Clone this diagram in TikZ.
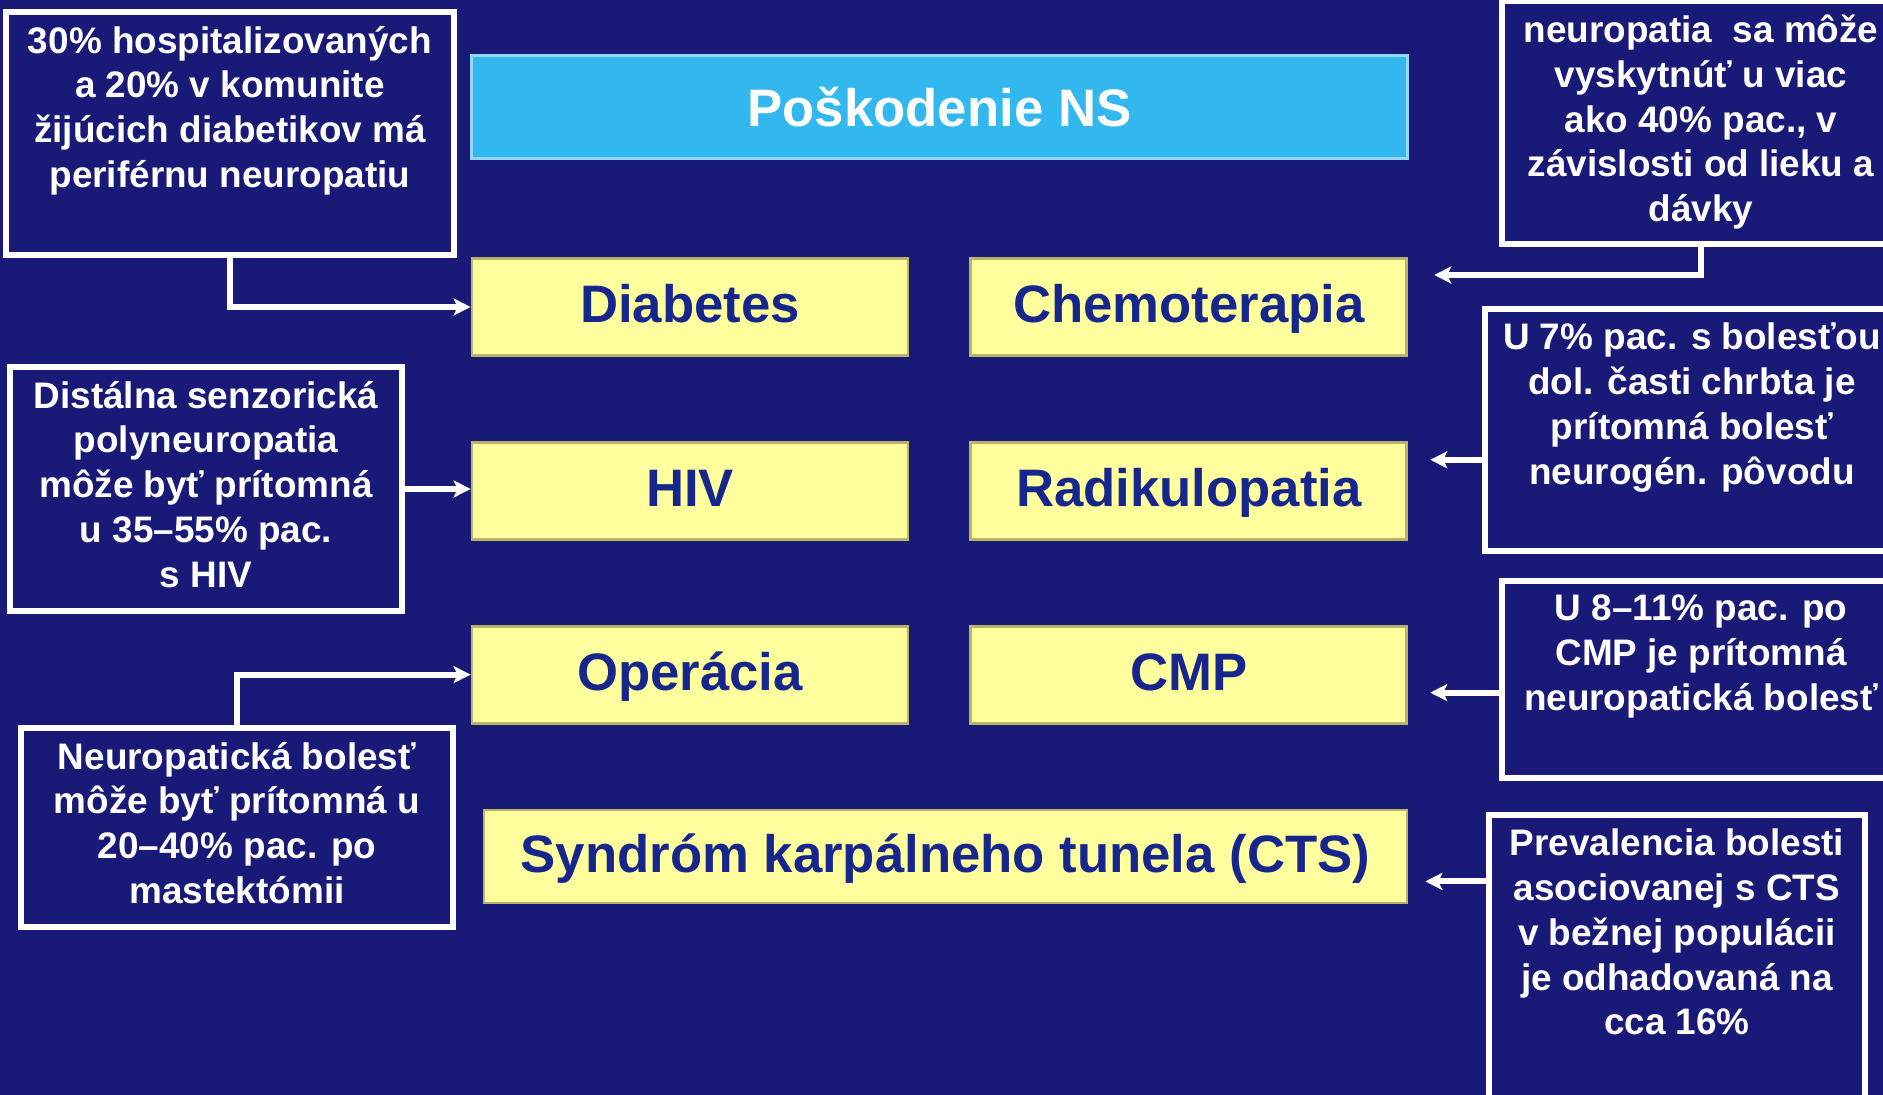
\documentclass[tikz,border=0pt]{standalone}
\usepackage{fontspec}
\setmainfont{Liberation Sans}
\usepackage{tikz}
\usetikzlibrary{positioning,arrows.meta,calc}
\definecolor{NavyBg}{RGB}{25,25,120}
\definecolor{CauseYellow}{RGB}{255,255,158}
\definecolor{CauseEdge}{RGB}{185,180,105}
\definecolor{CauseText}{RGB}{22,38,140}
\definecolor{TitleCyan}{RGB}{50,184,239}
\definecolor{TitleEdge}{RGB}{150,215,245}
\newcommand{\notetext}[3]{\parbox[c][#2][t]{#1}{\centering\vspace*{0.14cm}#3}}

\begin{document}
\begin{tikzpicture}[
    node distance=0.84cm and 0.6cm,
    cause/.style={rectangle, fill=CauseYellow, draw=CauseEdge, line width=0.8pt,
        minimum width=4.36cm, minimum height=0.97cm, inner sep=0pt,
        text height=0.40cm, text depth=0.08cm,
        font=\bfseries\fontsize{15}{18}\selectfont, text=CauseText},
    heading/.style={rectangle, fill=TitleCyan, draw=TitleEdge, line width=0.8pt,
        minimum width=9.36cm, minimum height=1.03cm, inner sep=0pt,
        font=\bfseries\fontsize{15}{18}\selectfont, text=white},
    note/.style={rectangle, draw=white, line width=1.7pt, inner sep=0pt, anchor=north west,
        font=\bfseries\fontsize{10.5}{12.75}\selectfont, text=white},
    link/.style={-{Stealth[length=0.17cm, width=0.17cm, inset=0.04cm]}, white, line width=1.7pt},
]
\useasboundingbox (0,0) rectangle (18.83,-10.95);
\clip (0,0) rectangle (18.83,-10.95);
\fill[NavyBg] (0,0) rectangle (18.83,-10.95);

% causes
\node[cause] (diab) at (6.90,-3.07) {Diabetes};
\node[cause, right=of diab] (chemo) {Chemoterapia};
\node[cause, below=of diab] (hiv) {HIV};
\node[cause, right=of hiv] (radik) {Radikulopatia};
\node[cause, below=of hiv] (oper) {Operácia};
\node[cause, right=of oper] (cmp) {CMP};
\coordinate (midtop) at ($(diab.north)!0.5!(chemo.north)$);
\coordinate (midbot) at ($(oper.south)!0.5!(cmp.south)$);
\node[heading, above=0.97cm of midtop] (ns) {Poškodenie NS};
\node[cause, minimum width=9.23cm, minimum height=0.93cm, below=of midbot, xshift=0.06cm] (cts) {Syndróm karpálneho tunela (CTS)};

% notes left
\node[note] (diabnote) at (0.03,-0.09) {\notetext{4.48cm}{2.43cm}{30\% hospitalizovaných\\ a 20\% v komunite\\ žijúcich diabetikov má\\ periférnu neuropatiu}};
\node[note] (hivnote) at (0.07,-3.64) {\notetext{3.92cm}{2.44cm}{Distálna senzorická\\ polyneuropatia\\ môže byť prítomná\\ u 35–55\% pac.\\ s HIV}};
\node[note] (opernote) at (0.18,-7.25) {\notetext{4.32cm}{1.99cm}{Neuropatická bolesť\\ môže byť prítomná u\\ 20–40\% pac. po\\ mastektómii}};

% notes right
\node[note] (chemonote) at (14.99,0.02) {\notetext{3.98cm}{2.43cm}{neuropatia\ \ sa môže\\ vyskytnúť u viac\\ ako 40\% pac., v\\ závislosti od lieku a\\ dávky}};
\node[note] (radiknote) at (14.82,-3.06) {\notetext{4.14cm}{2.42cm}{U 7\% pac. s bolesťou\\ dol. časti chrbta je\\ prítomná bolesť\\ neurogén. pôvodu}};
\node[note] (cmpnote) at (14.99,-5.78) {\notetext{3.98cm}{1.97cm}{U 8–11\% pac. po\\ CMP je prítomná\\ neuropatická bolesť}};
\node[note] (ctsnote) at (14.86,-8.12) {\notetext{3.76cm}{3.00cm}{Prevalencia bolesti\\ asociovanej s CTS\\ v bežnej populácii\\ je odhadovaná na\\ cca 16\%}};

% links
\draw[link] (diabnote.south) |- (diab.west);
\draw[link] (hivnote.east) -- (hivnote.east -| hiv.west);
\draw[link] (opernote.north) |- (oper.west);
\coordinate (chemoin) at ([xshift=0.26cm, yshift=0.32cm]chemo.east);
\draw[link] (chemonote.south) |- (chemoin);
\coordinate (radikin) at ([xshift=0.22cm, yshift=0.31cm]radik.east);
\draw[link] (radiknote.west |- radikin) -- (radikin);
\coordinate (cmpin) at ([xshift=0.22cm, yshift=-0.18cm]cmp.east);
\draw[link] (cmpnote.west |- cmpin) -- (cmpin);
\coordinate (ctsin) at ([xshift=0.17cm, yshift=-0.25cm]cts.east);
\draw[link] (ctsnote.west |- ctsin) -- (ctsin);
\end{tikzpicture}
\end{document}
